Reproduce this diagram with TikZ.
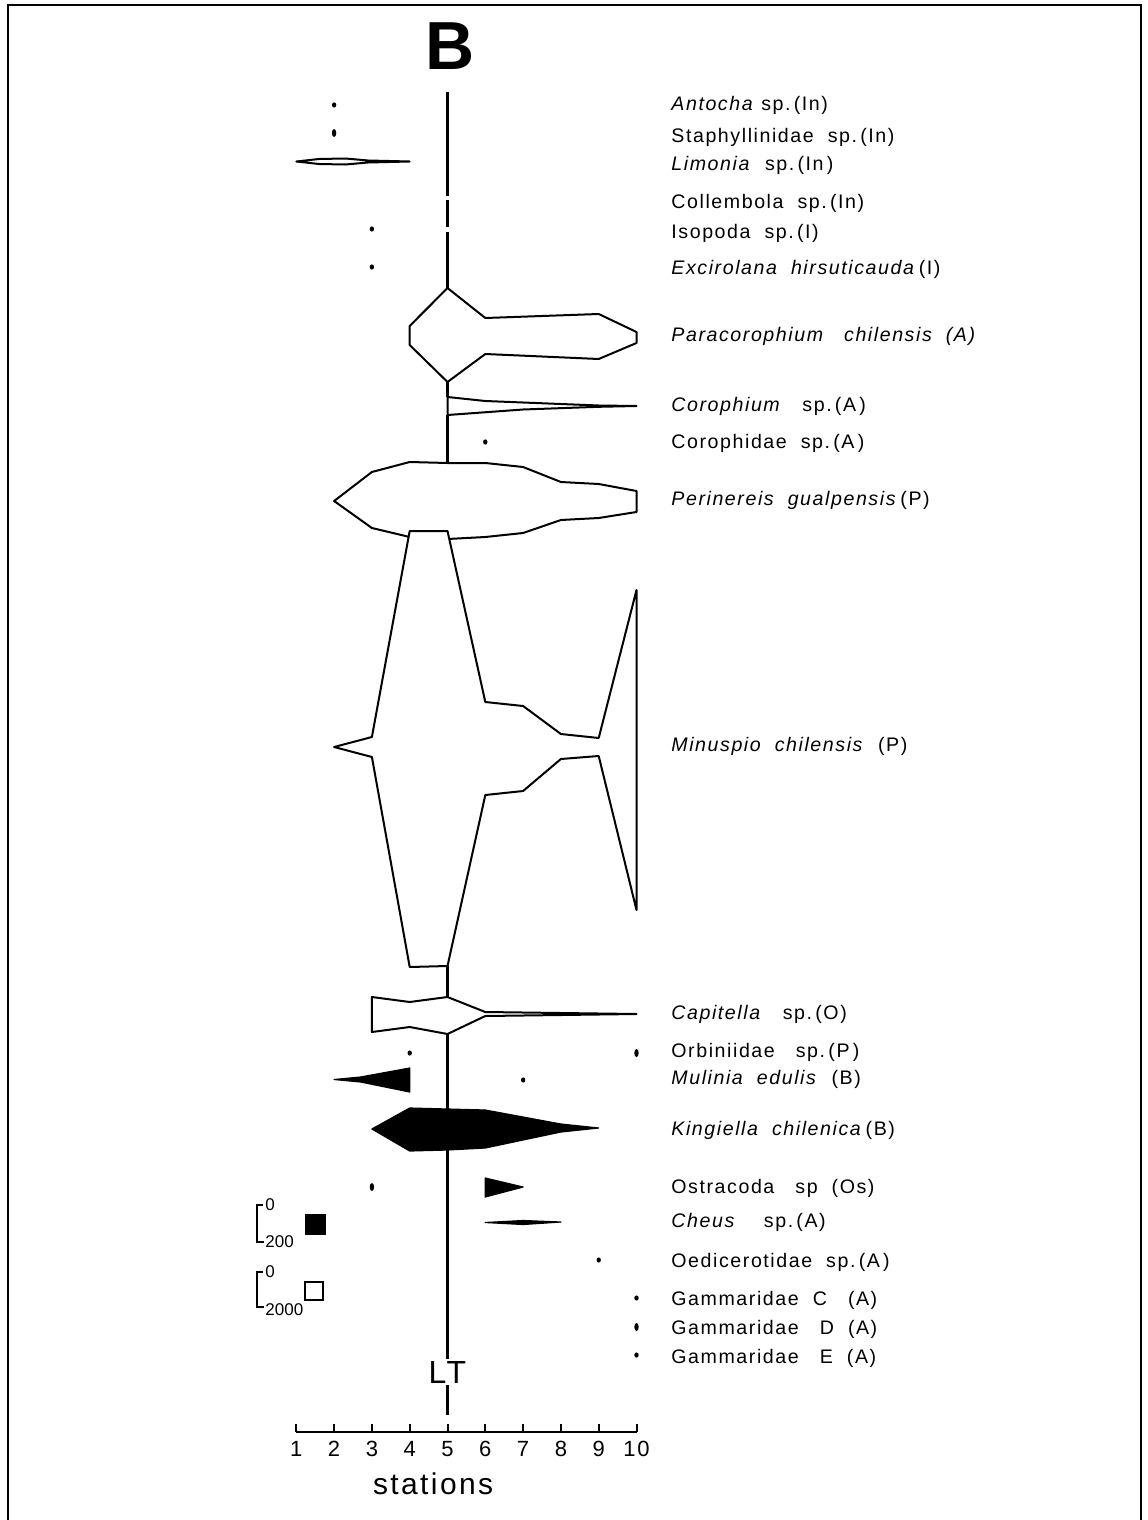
\documentclass[tikz,border=0pt]{standalone}
\usepackage{fontspec}
\setmainfont{Liberation Sans}[LetterSpace=8]
\usetikzlibrary{positioning}

\begin{document}
\begin{tikzpicture}[x=0.5pt,y=-0.5pt,
    spname/.style={anchor=west,inner sep=0pt,font=\fontsize{9.8}{11}\selectfont},
    abund/.style={draw=black,fill=white,line width=1pt,line join=round},
    abundfill/.style={draw=black,fill=black,line width=0.6pt,line join=round},
    stem/.style={line width=1.2pt},
    spot/.style={fill=black},
    legtext/.style={inner sep=0.5pt,font=\fontsize{8.5}{8.5}\selectfont\addfontfeature{LetterSpace=0}},
    ticklab/.style={font=\fontsize{11}{11}\selectfont}
    ]
    \useasboundingbox (0,0) rectangle (1147,1520);
    % frame
    \draw[line width=1.3pt] (8,1520) -- (8,5) -- (1141,5) -- (1141,1520);
    \node[font=\fontsize{34}{34}\selectfont\bfseries] (title) at (450,46) {B};

    % station scale: x in stations, y in px
    \begin{scope}[shift={(258.5,0)},x=18.9pt]
    % open kites
    \draw[abund] (1,161.5) -- (1.6,159) -- (2.3,158.5) -- (2.9,160.5) -- (4,161.5)
        -- (2.9,162.5) -- (2.3,164.5) -- (1.6,164) -- cycle;
    \draw[abund] (5,288) coordinate (paraT) -- (6,318) -- (9,314) -- (10,332) -- (10,343)
        -- (9,359) -- (6,354) -- (5,382) coordinate (paraB) -- (4,345) -- (4,326) -- cycle;
    \draw[abund] (5,397) coordinate (coroT) -- (6,401) -- (9,405.5) -- (10,406) -- (9,406.8)
        -- (7,409.5) -- (5,415) coordinate (coroB) -- cycle;
    \draw[abund] (2,501) -- (3,472) -- (4,462) -- (5,463) coordinate (periT) -- (6,463)
        -- (7,467) -- (8,482) -- (9,484) -- (10,491) -- (10,512) -- (9,518) -- (8,520)
        -- (7,533) -- (6,537) -- (5,539) -- (4,537) -- (3,528) -- cycle;
    \draw[abund] (4,531) -- (5,531) coordinate (minuT) -- (6,702) -- (7,706) -- (8,734)
        -- (9,738) -- (10,590) -- (10,910) -- (9,756) -- (8,759) -- (7,791) -- (6,795)
        -- (5,966) coordinate (minuB) -- (4,967) -- (3,757) -- (2,747) -- (3,737) -- cycle;
    \draw[abund] (3,997) -- (4,1002) -- (5,997) coordinate (capT) -- (6,1012) -- (10,1014)
        -- (6,1016) -- (5,1034) coordinate (capB) -- (4,1027) -- (3,1032) -- cycle;
    % filled kites
    \draw[abundfill] (2,1079.5) -- (2.7,1077) -- (4,1068) -- (4,1092) -- (2.7,1082) -- cycle;
    \draw[abundfill] (3,1129) -- (4,1108) -- (5,1109) coordinate (kingT) -- (6,1110)
        -- (8,1124) -- (9,1128) -- (8,1132) -- (6,1148) -- (5,1150) coordinate (kingB)
        -- (4,1151) -- cycle;
    \draw[abundfill] (6,1178) -- (7,1187) -- (6,1197) -- cycle;
    \draw[abundfill] (6,1222.5) -- (7,1220.5) -- (8,1222) -- (7,1224.5) -- cycle;

    % single records
    \foreach \s/\y in {2/105,3/229,3/267,6/442,4/1053,7/1080,9/1260,10/1298,10/1355}
        \fill[spot] (\s,\y) ellipse [x radius=1.1pt,y radius=1.3pt];
    \foreach \s/\y in {2/133,10/1053,3/1187,10/1327}
        \fill[spot] (\s,\y) ellipse [x radius=1.1pt,y radius=2pt];

    % LT line
    \node[font=\fontsize{16}{16}\selectfont,inner sep=1pt] (LT) at (5,1372) {LT};
    \coordinate (stemtop) at (5,92);
    \coordinate (stembot) at (5,1415);
    \draw[stem] (stemtop) -- (5,196) (5,200) -- (5,227) (5,232) -- (paraT);
    \draw[stem] (paraB) -- (coroT);
    \draw[stem] (coroB) -- (periT);
    \draw[stem] (minuB) -- (capT);
    \draw[stem] (capB) -- (kingT);
    \draw[stem] (kingB) -- (LT.north);
    \draw[stem] (LT.south) -- (stembot);

    % axis
    \draw[stem] (1,1432) -- (10,1432);
    \foreach \s in {1,...,10} {
        \draw[line width=1pt] (\s,1432) -- (\s,1424);
        \node[ticklab] (tick\s) at (\s,1449) {\s};
    }
    \node[font=\fontsize{15}{15}\selectfont] (xlab) at (4.62,1484) {stations};
    \end{scope}

    % species names
    \foreach \y/\txt [count=\i] in {
        105/{\textit{Antocha} sp.\,(In)},
        137/{Staphyllinidae\ \ sp.\,(In)},
        165/{\textit{Limonia}\ \ sp.\,(In\,)},
        203/{Collembola\ \ sp.\,(In)},
        233/{Isopoda\ \ sp.\,(I)},
        269/{\textit{Excirolana\ \ hirsuticauda}\,(I)},
        336/{\textit{Paracorophium\ \ \ chilensis\ \ (A)}},
        406/{\textit{Corophium}\ \ \ sp.\,(A\,)},
        443/{Corophidae\ \ sp.\,(A\,)},
        500/{\textit{Perinereis\ \ gualpensis}\,(P)},
        746/{\textit{Minuspio\ \ chilensis}\ \ (P)},
        1014/{\textit{Capitella}\ \ \ sp.\,(O)},
        1052/{Orbiniidae\ \ \ sp.\,(P\,)},
        1079/{\textit{Mulinia\ \ edulis}\ \ (B)},
        1130/{\textit{Kingiella\ \ chilenica}\,(B)},
        1188/{Ostracoda\ \ \ sp\ \ (Os)},
        1222/{\textit{Cheus}\ \ \ \ sp.\,(A)},
        1262/{Oedicerotidae\ \ sp.\,(A\,)},
        1300/{Gammaridae\ \ C\ \ \ (A)},
        1329/{Gammaridae\ \ \ D\ \ (A)},
        1358/{Gammaridae\ \ \ E\ \ (A)}}
        \node[spname] (sp\i) at (671,\y) {\txt};

    % legend
    \draw[line width=0.7pt] (263,1205) coordinate (b1top) -- (257,1205) -- (257,1242)
        -- (264,1242) coordinate (b1bot);
    \node[legtext,right=0.5pt of b1top] (b1min) {0};
    \node[legtext,right=0pt of b1bot] (b1max) {200};
    \node[draw,fill=black,minimum size=10pt,inner sep=0pt] (sqfull) at (315,1224) {};
    \draw[line width=0.7pt] (263,1272) coordinate (b2top) -- (257,1272) -- (257,1307)
        -- (264,1307) coordinate (b2bot);
    \node[legtext,right=0.5pt of b2top] (b2min) {0};
    \node[legtext,right=0pt of b2bot,yshift=-1.5pt] (b2max) {2000};
    \node[draw,line width=0.8pt,minimum size=9pt,inner sep=0pt] (sqopen) at (314,1291) {};
\end{tikzpicture}
\end{document}
